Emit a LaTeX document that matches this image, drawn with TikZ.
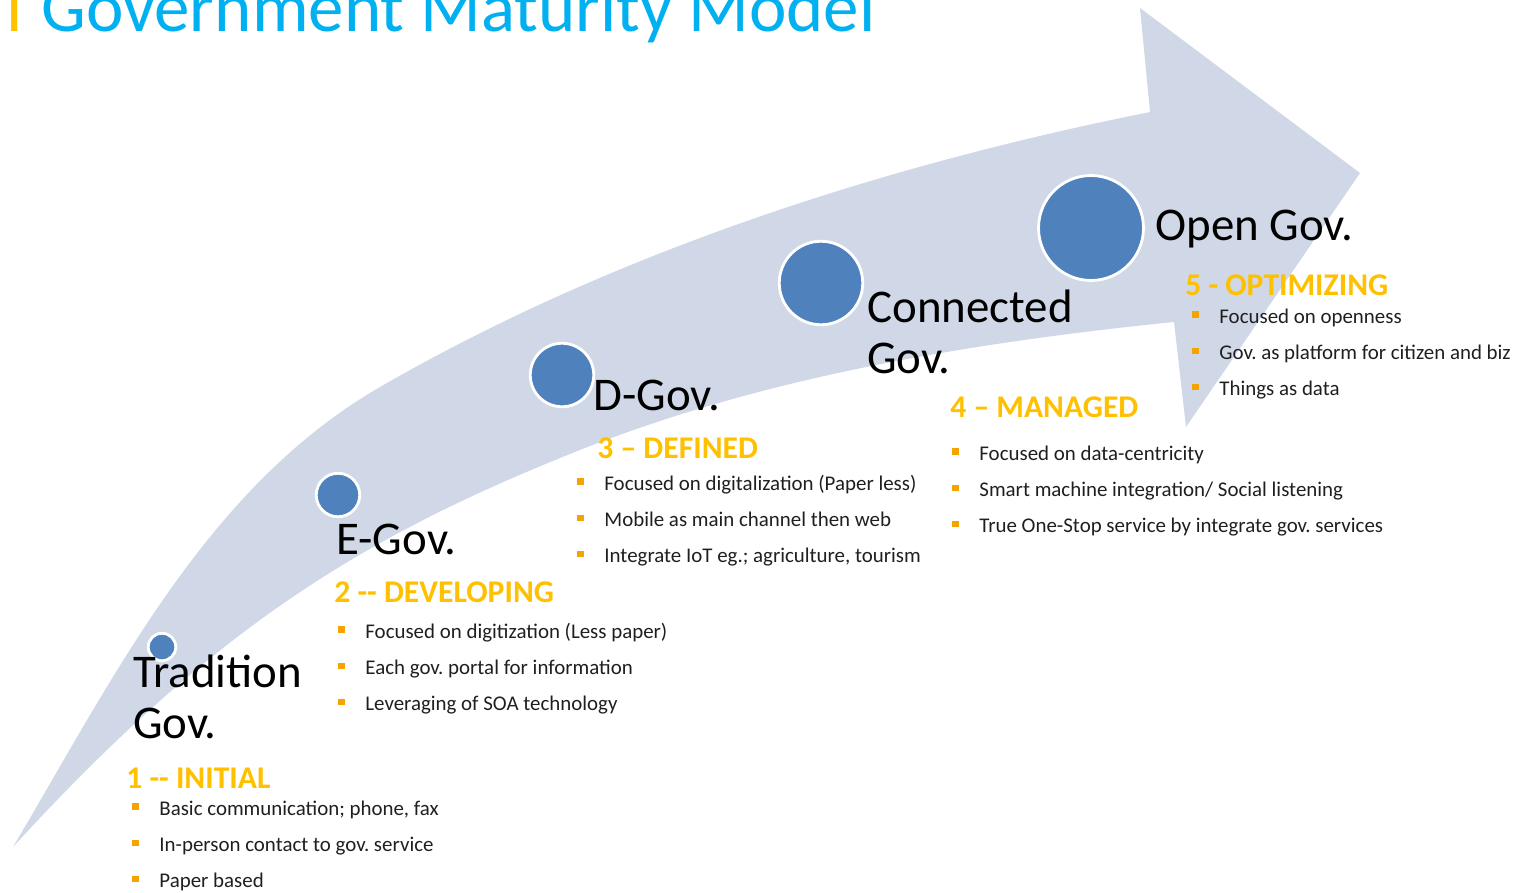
\documentclass[tikz,border=0pt]{standalone}
\usepackage{fontspec}
\setmainfont{Carlito}
\usetikzlibrary{positioning}
\definecolor{bandblue}{HTML}{D0D8E8}
\definecolor{dotblue}{HTML}{4F81BD}
\definecolor{titlecyan}{HTML}{00B0F0}
\definecolor{levelgold}{HTML}{FFC000}
\definecolor{bulletgold}{HTML}{F4A300}
\frenchspacing
\newcommand{\sqbullet}{\makebox[15.4pt][l]{\textcolor{bulletgold}{\rule[2.8pt]{3.8pt}{3.8pt}}}}
\tikzset{
  heading/.style = {font=\fontsize{40.4}{44}\selectfont, text=titlecyan, anchor=base west, inner sep=0pt},
  stage/.style   = {font=\fontsize{26.7}{29}\selectfont, anchor=base west, inner sep=0pt, align=left},
  level/.style   = {font=\fontsize{18}{20}\selectfont\bfseries, text=levelgold, anchor=base west, inner sep=0pt},
  point/.style   = {font=\fontsize{11.9}{13}\selectfont, text=black!88, anchor=base west, inner sep=0pt},
  dot/.style     = {circle, fill=dotblue, draw=white, line width=1.6pt, inner sep=0pt}
}

\begin{document}
\begin{tikzpicture}[x=0.02cm, y=-0.02cm]
\useasboundingbox (0,0) rectangle (1529,893);

\fill[bandblue] (13,847) .. controls (115,675) and (207,487) .. (380,387)
  .. controls (614,252) and (885,165) .. (1150,112) -- (1140,8) -- (1360,173)
  -- (1186,427) -- (1174,322) .. controls (976,342) and (766,376) .. (580,450)
  .. controls (366,535) and (215,626) .. (13,847) -- cycle;

\node[heading] (title) at (41,31) {Government Maturity Model};
\node[heading, text=levelgold] (title_l) at (6,31) {l};

\node[dot, minimum size=0.55cm] (dot_trad) at (162,647) {};
\node[dot, minimum size=0.87cm] (dot_egov) at (338,495) {};
\node[dot, minimum size=1.27cm] (dot_dgov) at (562,375) {};
\node[dot, minimum size=1.67cm] (dot_conn) at (821,283) {};
\node[dot, minimum size=2.1cm] (dot_open) at (1091,228) {};

\node[stage] (lab_trad) at (133,738) {Tradition\\Gov.};
\node[stage] (lab_egov) at (336,554) {E-Gov.};
\node[stage] (lab_dgov) at (593,410) {D-Gov.};
\node[stage] (lab_conn) at (867,373) {Connected\\Gov.};
\node[stage] (lab_open) at (1155,240) {Open Gov.};

\node[level] (lvl_1) at (126,788) {1 -{}- INITIAL};
\node[level] (lvl_2) at (334,602) {2 -{}- DEVELOPING};
\node[level] (lvl_3) at (597,458) {3 – DEFINED};
\node[level] (lvl_4) at (950,417) {4 – MANAGED};
\node[level] (lvl_5) at (1185,295) {5 - OPTIMIZING};

\node[point] (p1_a) at (132,815) {\sqbullet Basic communication; phone, fax};
\node[point, below=20.6pt of p1_a.base west, anchor=base west] (p1_b) {\sqbullet In-person contact to gov. service};
\node[point, below=20.6pt of p1_b.base west, anchor=base west] (p1_c) {\sqbullet Paper based};

\node[point] (p2_a) at (338,638) {\sqbullet Focused on digitization (Less paper)};
\node[point, below=20.6pt of p2_a.base west, anchor=base west] (p2_b) {\sqbullet Each gov. portal for information};
\node[point, below=20.6pt of p2_b.base west, anchor=base west] (p2_c) {\sqbullet Leveraging of SOA technology};

\node[point] (p3_a) at (577,490) {\sqbullet Focused on digitalization (Paper less)};
\node[point, below=20.6pt of p3_a.base west, anchor=base west] (p3_b) {\sqbullet Mobile as main channel then web};
\node[point, below=20.6pt of p3_b.base west, anchor=base west] (p3_c) {\sqbullet Integrate IoT eg.; agriculture, tourism};

\node[point] (p4_a) at (952,460) {\sqbullet Focused on data-centricity};
\node[point, below=20.6pt of p4_a.base west, anchor=base west] (p4_b) {\sqbullet Smart machine integration/ Social listening};
\node[point, below=20.6pt of p4_b.base west, anchor=base west] (p4_c) {\sqbullet True One-Stop service by integrate gov. services};

\node[point] (p5_a) at (1192,323) {\sqbullet Focused on openness};
\node[point, below=20.6pt of p5_a.base west, anchor=base west] (p5_b) {\sqbullet Gov. as platform for citizen and biz};
\node[point, below=20.6pt of p5_b.base west, anchor=base west] (p5_c) {\sqbullet Things as data};
\end{tikzpicture}
\end{document}
